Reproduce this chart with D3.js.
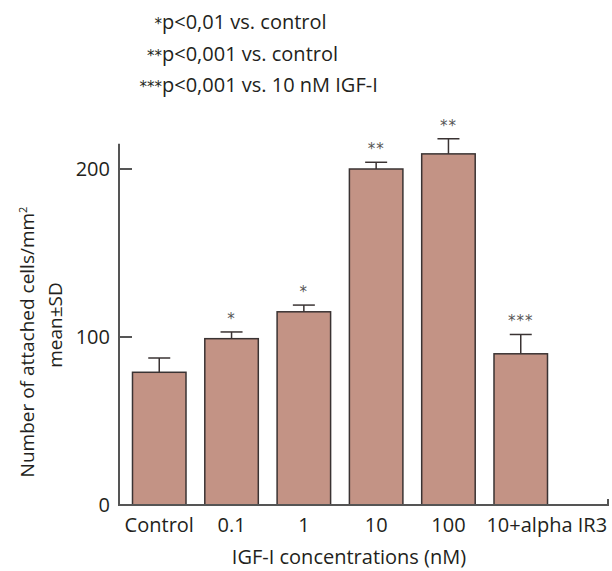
<!DOCTYPE html>
<html><head><meta charset="utf-8">
<script src="https://cdn.jsdelivr.net/npm/d3@7"></script>
<style>body{margin:0;background:#fff}</style>
</head><body>
<svg id="c" width="612" height="571"></svg>
<script>
const categories = ["Control","0.1","1","10","100","10+alpha IR3"];
const means = [79, 99, 115, 200, 209, 90];
const sds = [8.5, 4, 4, 4, 9, 11.5];
const marks = ["", "*", "*", "**", "**", "***"];
const yTicks = [0, 100, 200];
const notesStars = ["*", "**", "***"];
const notesText = ["p<0,01 vs. control", "p<0,001 vs. control", "p<0,001 vs. 10 nM IGF-I"];

const FONT = "'Open Sans', sans-serif";
const STARFONT = "'DejaVu Sans', sans-serif";
const textCol = "#231f20";
const svg = d3.select("#c");

const x = d3.scaleBand().domain(categories).range([123.1, 556.9]).paddingInner(0.26).paddingOuter(0.13);
const y = d3.scaleLinear().domain([0, 215]).range([505, 143.8]);

const axisX0 = 119, axisX1 = 608;

// bars
svg.selectAll("rect.bar").data(categories).join("rect")
  .attr("x", d => x(d)).attr("width", x.bandwidth())
  .attr("y", (d,i) => y(means[i])).attr("height", (d,i) => y(0) - y(means[i]))
  .attr("fill", "#c39385").attr("stroke", "#3a3333").attr("stroke-width", 1.5);

// error bars
const eb = svg.append("g").attr("stroke", "#3a3333").attr("stroke-width", 1.5);
categories.forEach((c,i) => {
  const cx = x(c) + x.bandwidth()/2;
  eb.append("line").attr("x1", cx).attr("x2", cx).attr("y1", y(means[i])).attr("y2", y(means[i]+sds[i]));
  eb.append("line").attr("x1", cx-11).attr("x2", cx+11).attr("y1", y(means[i]+sds[i])).attr("y2", y(means[i]+sds[i]));
});

// significance marks
svg.selectAll("text.mark").data(categories).join("text")
  .attr("x", d => x(d) + x.bandwidth()/2)
  .attr("y", (d,i) => y(means[i]+sds[i]) - 8)
  .attr("text-anchor", "middle").attr("font-family", STARFONT).attr("font-size", 15)
  .attr("letter-spacing", 1)
  .attr("fill", "#555").text((d,i) => marks[i]);

// axes
const ax = svg.append("g").attr("stroke", "#555").attr("stroke-width", 2).attr("fill", "none");
ax.append("path").attr("d", `M${axisX0},${y(215)}V${y(0)}H${axisX1}V${y(0)-6}`);
ax.selectAll("line.yt").data(yTicks.filter(t => t > 0)).join("line")
  .attr("x1", axisX0).attr("x2", axisX0 + 13).attr("y1", d => y(d)).attr("y2", d => y(d));

svg.selectAll("text.yl").data(yTicks).join("text")
  .attr("x", 110).attr("y", d => y(d)).attr("dy", "0.36em")
  .attr("text-anchor", "end").attr("font-family", FONT).attr("font-size", 20).attr("fill", textCol)
  .text(d => d);

svg.selectAll("text.xl").data(categories).join("text")
  .attr("x", (d,i) => x(d) + x.bandwidth()/2 + (i === categories.length-1 ? 26 : 0))
  .attr("y", 532).attr("text-anchor", "middle").attr("font-family", FONT).attr("font-size", 20).attr("fill", textCol)
  .text(d => d);

svg.append("text").attr("x", 349).attr("y", 564).attr("text-anchor", "middle")
  .attr("font-family", FONT).attr("font-size", 20).attr("fill", textCol).text("IGF-I concentrations (nM)");

// y title
const yt = svg.append("text").attr("transform", "translate(34,342) rotate(-90)")
  .attr("text-anchor", "middle").attr("font-family", FONT).attr("font-size", 19).attr("fill", textCol);
yt.append("tspan").text("Number of attached cells/mm");
yt.append("tspan").attr("dy", -7).attr("font-size", 11).text("2");
svg.append("text").attr("transform", "translate(62,325) rotate(-90)")
  .attr("text-anchor", "middle").attr("font-family", FONT).attr("font-size", 19).attr("fill", textCol).text("mean±SD");

// notes
notesText.forEach((t,i) => {
  const yy = 29 + i*31.5;
  svg.append("text").attr("x", 162).attr("y", yy).attr("text-anchor", "end")
    .attr("font-family", STARFONT).attr("font-size", 15).attr("fill", textCol).text(notesStars[i]);
  svg.append("text").attr("x", 162).attr("y", yy).attr("text-anchor", "start")
    .attr("font-family", FONT).attr("font-size", 20).attr("fill", textCol).text(t);
});
</script>
</body></html>
